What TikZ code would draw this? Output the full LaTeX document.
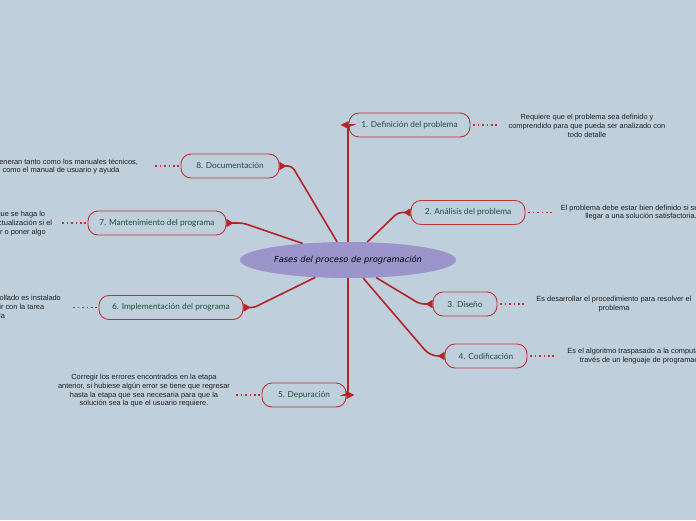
\documentclass[tikz,border=0pt]{standalone}
\usepackage{fontspec}
\setmainfont{Liberation Sans}
\newfontfamily\phasefont{Lato}
\newfontfamily\titlefont{DejaVu Sans}
\usetikzlibrary{arrows.meta,shapes.geometric}
\definecolor{bg}{RGB}{191,207,220}
\definecolor{ellfill}{RGB}{156,149,204}
\definecolor{linered}{RGB}{181,36,40}
\definecolor{nodered}{RGB}{190,52,55}
\definecolor{dotred}{RGB}{200,45,50}
\definecolor{phasetext}{RGB}{28,78,62}
\definecolor{desctext}{RGB}{30,30,30}
\begin{document}
\begin{tikzpicture}[x=1pt,y=-1pt,
  phase/.style={draw=nodered, line width=0.9pt, rounded corners=10pt, fill=bg,
    text=phasetext, font=\phasefont\fontsize{8.3}{10}\selectfont,
    minimum height=24pt, inner sep=0pt},
  desc/.style={font=\fontsize{7.4}{8.7}\selectfont, align=center, text=desctext, inner sep=0pt},
  conn/.style={draw=linered, line width=1.6pt, rounded corners=4pt},
  link/.style={conn, -{Triangle[reversed,length=7pt,width=8pt]}},
  dots/.style={draw=dotred, line width=1.6pt, dash pattern=on 1.6pt off 2.8pt}
]
\fill[bg] (0,0) rectangle (696,520);
\useasboundingbox (0,0) rectangle (696,520);
\clip (0,0) rectangle (696,520);

% central topic
\node[ellipse, fill=ellfill, minimum width=216pt, minimum height=36pt, inner sep=0pt,
  font=\titlefont\itshape\fontsize{8.3}{10}\selectfont] (c) at (348,260) {Fases del proceso de programación};

% phases
\node[phase, minimum width=121pt] (n1) at (409.5,125) {1. Definición del problema};
\node[phase, minimum width=114pt] (n2) at (468,212.5) {2. Análisis del problema};
\node[phase, minimum width=64pt]  (n3) at (465,304) {3. Diseño};
\node[phase, minimum width=82pt]  (n4) at (486,356) {4. Codificación};
\node[phase, minimum width=84pt]  (n5) at (304,395) {5. Depuración};
\node[phase, minimum width=144pt] (n6) at (171,307.5) {6. Implementación del programa};
\node[phase, minimum width=138pt] (n7) at (157,223) {7. Mantenimiento del programa};
\node[phase, minimum width=98pt]  (n8) at (230,166) {8. Documentación};

% connectors
\draw[conn] (c.north) |- (n1.west);
\fill[linered] ([yshift=-4pt]n1.west) -- ([yshift=4pt]n1.west) -- ([xshift=-8pt]n1.west) -- cycle;
\draw[conn] (c.south) |- (n5.east);
\fill[linered] ([yshift=-4pt]n5.east) -- ([yshift=4pt]n5.east) -- ([xshift=8pt]n5.east) -- cycle;
\draw[link] (c.43) -- (398,212.5) -- (n2.west);
\draw[link] (c.-32) -- (420,304) -- (n3.west);
\draw[link, rounded corners=8pt] (c.-50) -- (430,356) -- (n4.west);
\draw[link, rounded corners=3pt] (c.208) -- (254,307.5) -- (n6.east);
\draw[link] (c.160) -- (243,223) -- (n7.east);
\draw[link] (c.121) -- (292,166) -- (n8.east);

% descriptions
\node[desc] (d1) at (587,126) {Requiere que el problema sea definido y\\comprendido para que pueda ser analizado con\\todo detalle};
\node[desc] (d2) at (641,212.5) {El problema debe estar bien definido si se quiere\\llegar a una solución satisfactoria.};
\node[desc] (d3) at (614,304) {Es desarrollar el procedimiento para resolver el\\problema};
\node[desc] (d4) at (644,356) {Es el algoritmo traspasado a la computadora a\\través de un lenguaje de programación};
\node[desc] (d5) at (144,391) {Corregir los errores encontrados en la etapa\\anterior, si hubiese algún error se tiene que regresar\\hasta la etapa que sea necesaria para que la\\solución sea la que el usuario requiere.};
\node[desc] (d6) at (-15,307.5) {Cuando el programa desarrollado es instalado\\para que pueda cumplir con la tarea\\programada};
\node[desc] (d7) at (-3,223.5) {Es importante que se haga lo\\necesario en la actualización si el\\si hay que quitar o poner algo};
\node[desc] (d8) at (61,166.5) {Se generan tanto como los manuales técnicos,\\como el manual de usuario y ayuda};

% dotted leaders
\draw[dots] ([xshift=3pt]n1.east) -- ++(24,0);
\draw[dots] ([xshift=3pt]n2.east) -- ++(24,0);
\draw[dots] ([xshift=3pt]n3.east) -- ++(24,0);
\draw[dots] ([xshift=3pt]n4.east) -- ++(24,0);
\draw[dots] ([xshift=-1.5pt]n5.west) -- ++(-24,0);
\draw[dots] ([xshift=-1.5pt]n6.west) -- ++(-24,0);
\draw[dots] ([xshift=-1.5pt]n7.west) -- ++(-24,0);
\draw[dots] ([xshift=-1.5pt]n8.west) -- ++(-24,0);
\end{tikzpicture}
\end{document}
